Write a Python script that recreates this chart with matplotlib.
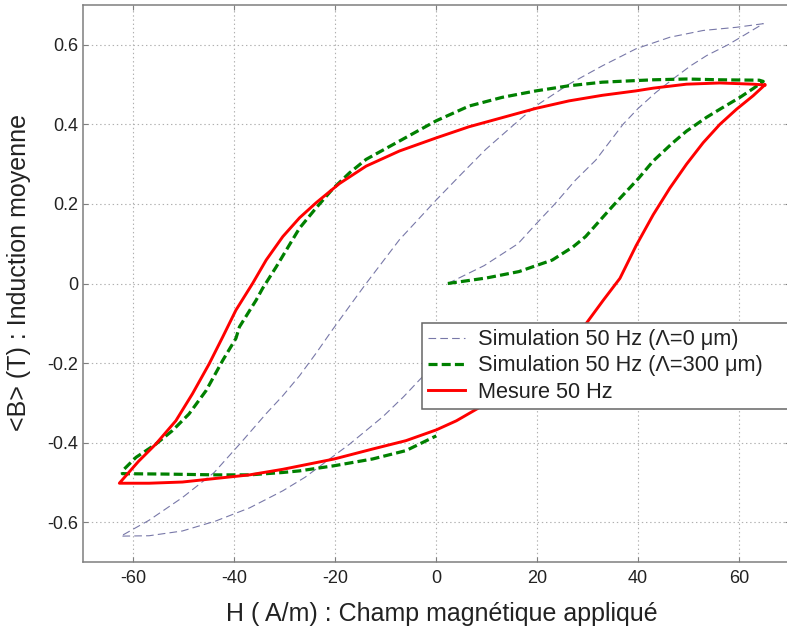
import matplotlib
matplotlib.use('Agg')
import matplotlib.pyplot as plt
import numpy as np

plt.rcParams['font.family'] = ['Liberation Sans', 'DejaVu Sans']
plt.rcParams['axes.unicode_minus'] = False
plt.rcParams['lines.scale_dashes'] = False

# ---- data (H in A/m, B in T) ----
# Simulation 50 Hz (Lambda = 0 um): first magnetisation, descending branch, ascending branch
sim0_first_H = [2.3, 9.5, 16.2, 19.8, 23.5, 27.6, 31.6, 37.0, 40.0, 43.5, 47.0, 50.5, 53.6, 57.8, 60.2, 64.8]
sim0_first_B = [0.000, 0.045, 0.100, 0.150, 0.200, 0.260, 0.310, 0.400, 0.440, 0.480, 0.515, 0.548, 0.573, 0.600, 0.618, 0.653]
sim0_down_H = [59.5, 52.9, 46.3, 39.6, 32.9, 26.3, 19.7, 15.1, 9.8, 5.2, 0.0, -7.3, -13.9, -16.5, -20.5, -23.8,
               -27.1, -30.4, -33.7, -38.7, -44.0, -50.3, -56.9, -62.5]
sim0_down_B = [0.644, 0.636, 0.619, 0.590, 0.547, 0.501, 0.446, 0.396, 0.337, 0.278, 0.210, 0.110, 0.000, -0.045,
               -0.115, -0.175, -0.232, -0.282, -0.327, -0.400, -0.475, -0.538, -0.595, -0.635]
sim0_up_H = [-56.9, -50.3, -43.7, -37.0, -30.4, -26.0, -22.5, -17.2, -10.6, -6.5, -3.3, 0.0]
sim0_up_B = [-0.634, -0.622, -0.597, -0.564, -0.521, -0.487, -0.454, -0.404, -0.335, -0.285, -0.242, -0.200]

# Simulation 50 Hz (Lambda = 300 um)
sim300_first_H = [2.3, 10.0, 16.4, 19.8, 23.0, 27.1, 29.6, 33.1, 35.0, 40.0, 43.0, 46.9, 49.6, 53.6, 56.2, 60.2, 62.8, 64.8]
sim300_first_B = [0.000, 0.014, 0.030, 0.045, 0.059, 0.092, 0.118, 0.168, 0.195, 0.263, 0.308, 0.354, 0.383, 0.418,
                  0.438, 0.468, 0.490, 0.508]
sim300_down_H = [64.0, 56.2, 49.6, 43.0, 39.5, 32.9, 26.3, 19.7, 13.1, 6.5, 0.0, -7.3, -13.9, -17.2, -20.5, -23.8,
                 -27.1, -29.1, -31.7, -34.4, -35.7, -39.0, -39.7, -42.3, -45.6, -49.0, -52.3, -55.6, -59.5, -62.2]
sim300_down_B = [0.511, 0.512, 0.514, 0.512, 0.510, 0.506, 0.497, 0.484, 0.468, 0.446, 0.409, 0.358, 0.312, 0.278,
                 0.238, 0.190, 0.139, 0.097, 0.042, -0.012, -0.042, -0.109, -0.138, -0.193, -0.269, -0.328, -0.370,
                 -0.404, -0.437, -0.471]
sim300_up_H = [-62.2, -53.6, -43.7, -37.0, -30.4, -27.1, -20.2, -12.6, -6.0, 0.0]
sim300_up_B = [-0.478, -0.479, -0.481, -0.481, -0.475, -0.471, -0.458, -0.441, -0.420, -0.383]

# Mesure 50 Hz (closed loop)
mes_down_H = [65.1, 62.8, 56.2, 49.6, 43.0, 39.5, 32.9, 26.3, 19.7, 13.1, 6.5, 0.0, -7.3, -13.9, -19.2, -23.8,
              -27.1, -30.4, -33.7, -36.4, -39.7, -42.3, -45.0, -48.3, -51.6, -55.6, -59.0, -62.8]
mes_down_B = [0.499, 0.501, 0.504, 0.501, 0.491, 0.484, 0.473, 0.459, 0.440, 0.417, 0.394, 0.366, 0.333, 0.295,
              0.251, 0.203, 0.165, 0.118, 0.059, 0.000, -0.067, -0.134, -0.202, -0.277, -0.345, -0.404, -0.447, -0.502]
mes_up_H = [-56.9, -50.3, -43.7, -37.0, -30.4, -20.2, -12.6, -6.0, 0.0, 4.0, 8.5, 12.0, 16.0, 20.0, 24.0, 27.0,
            29.8, 33.1, 36.4, 39.6, 43.0, 46.3, 49.6, 52.9, 56.2, 59.5, 62.8, 65.1]
mes_up_B = [-0.502, -0.499, -0.490, -0.481, -0.467, -0.441, -0.416, -0.395, -0.368, -0.345, -0.312, -0.285, -0.250,
            -0.212, -0.170, -0.137, -0.099, -0.042, 0.013, 0.095, 0.173, 0.240, 0.300, 0.354, 0.400, 0.438, 0.472, 0.499]

labels = ['Simulation 50 Hz (\u039b=0 \u03bcm)', 'Simulation 50 Hz (\u039b=300 \u03bcm)', 'Mesure 50 Hz']
xticks = [-60, -40, -20, 0, 20, 40, 60]
yticks = [-0.6, -0.4, -0.2, 0, 0.2, 0.4, 0.6]
ytick_labels = ['-0.6', '-0.4', '-0.2', '0', '0.2', '0.4', '0.6']

fig = plt.figure(figsize=(7.87, 6.32), dpi=100)
ax = fig.add_axes([83 / 787, 70 / 632, 706.5 / 787, 557 / 632])

ax.plot(sim0_first_H + sim0_down_H + sim0_up_H, sim0_first_B + sim0_down_B + sim0_up_B,
        color='#7878a8', lw=0.8, dashes=(5.5, 3), label=labels[0])
ax.plot(sim300_first_H + sim300_down_H + sim300_up_H, sim300_first_B + sim300_down_B + sim300_up_B,
        color='#008000', lw=2.3, dashes=(6.5, 3), label=labels[1])
ax.plot(mes_down_H + mes_up_H, mes_down_B + mes_up_B, color='#ff0000', lw=2.1, label=labels[2])

ax.set_xlim(-70, 70)
ax.set_ylim(-0.7, 0.7)
ax.set_xticks(xticks)
ax.set_yticks(yticks)
ax.set_yticklabels(ytick_labels)
ax.grid(True, color='#b0b0b0', linestyle=(0, (1, 2)), lw=0.8)
ax.tick_params(direction='in', length=3.6, top=True, right=True, color='#7f7f7f',
               labelsize=13, labelcolor='#222222')
ax.tick_params(axis='x', pad=5.5)
ax.tick_params(axis='y', pad=3.5)
for s in ax.spines.values():
    s.set_color('#7f7f7f')
    s.set_linewidth(1.1)

ax.set_xlabel('H ( A/m) : Champ magnétique appliqué', fontsize=18, color='#222222')
ax.xaxis.set_label_coords(0.508, -0.072)
ax.set_ylabel('<B> (T) : Induction moyenne', fontsize=18, color='#222222')
ax.yaxis.set_label_coords(-0.074, 0.519)

# legend runs past the right edge of the picture, as in the reference
leg = ax.legend(loc='upper left', bbox_to_anchor=(0.4794, 0.4296, 0.54, 0.0), mode='expand',
                borderaxespad=0, fontsize=15.7, frameon=True, fancybox=False, edgecolor='#666666',
                framealpha=1, labelspacing=0.24, borderpad=0.3, handlelength=1.7, handletextpad=0.6)
leg.get_frame().set_linewidth(1.1)
for t in leg.get_texts():
    t.set_color('#222222')

fig.savefig('out.png', dpi=100)
